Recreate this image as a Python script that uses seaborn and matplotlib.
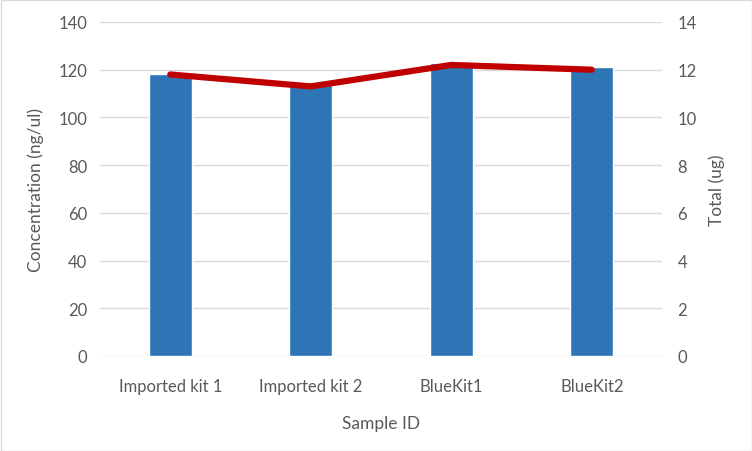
import matplotlib
matplotlib.use("Agg")
import matplotlib.pyplot as plt
import seaborn as sns
import pandas as pd
from matplotlib.patches import Rectangle

categories = ["Imported kit 1", "Imported kit 2", "BlueKit1", "BlueKit2"]
concentration = [118, 114.7, 123, 121]
total = [11.8, 11.3, 12.2, 12.0]

df = pd.DataFrame({"Sample ID": categories, "Concentration": concentration, "Total": total})

sns.set_theme(style="white")
plt.rcParams['font.family'] = ['Lato', 'DejaVu Sans']
txt = "#595959"
fs_tick = 12
fs_lab = 12.5

fig = plt.figure(figsize=(7.52, 4.52), dpi=100)
ax = fig.add_axes([100/752, 1-357/452, 562/752, 334/452])
sns.barplot(data=df, x="Sample ID", y="Concentration", color="#2E75B6",
            width=0.306, ax=ax, saturation=1, zorder=2)
ax.set_ylim(0, 140)
ax.set_yticks(range(0, 141, 20))
ax.grid(axis="y", color="#D9D9D9", linewidth=1, zorder=0)
ax.set_axisbelow(True)
for s in ax.spines.values():
    s.set_visible(False)
ax.tick_params(axis="y", length=0, colors=txt, labelsize=fs_tick, pad=9)
ax.tick_params(axis="x", length=0, colors=txt, labelsize=fs_tick, pad=16)
ax.set_ylabel("Concentration (ng/ul)", color=txt, fontsize=fs_lab)
ax.set_xlabel("Sample ID", color=txt, fontsize=fs_lab)
ax.yaxis.set_label_coords(-56/562, 0.5)
ax.xaxis.set_label_coords(0.5, -59/334)
ax.set_xlim(-0.5, 3.5)

ax2 = ax.twinx()
sns.lineplot(x=list(range(len(categories))), y=total, color="#C00000", linewidth=4.5,
             ax=ax2, solid_capstyle="round", zorder=3)
ax2.set_ylim(0, 14)
ax2.set_yticks(range(0, 15, 2))
for s in ax2.spines.values():
    s.set_visible(False)
ax2.tick_params(axis="y", length=0, colors=txt, labelsize=fs_tick, pad=11)
ax2.set_ylabel("Total (ug)", color=txt, fontsize=fs_lab)
ax2.yaxis.set_label_coords(1 + 46/562, 0.5)
ax2.grid(False)

fig.patches.append(Rectangle((0.5/752, 0.5/452), 1-1/752, 1-1/452, transform=fig.transFigure,
                             fill=False, edgecolor="#D9D9D9", linewidth=1))
fig.savefig("out.png", dpi=100)
